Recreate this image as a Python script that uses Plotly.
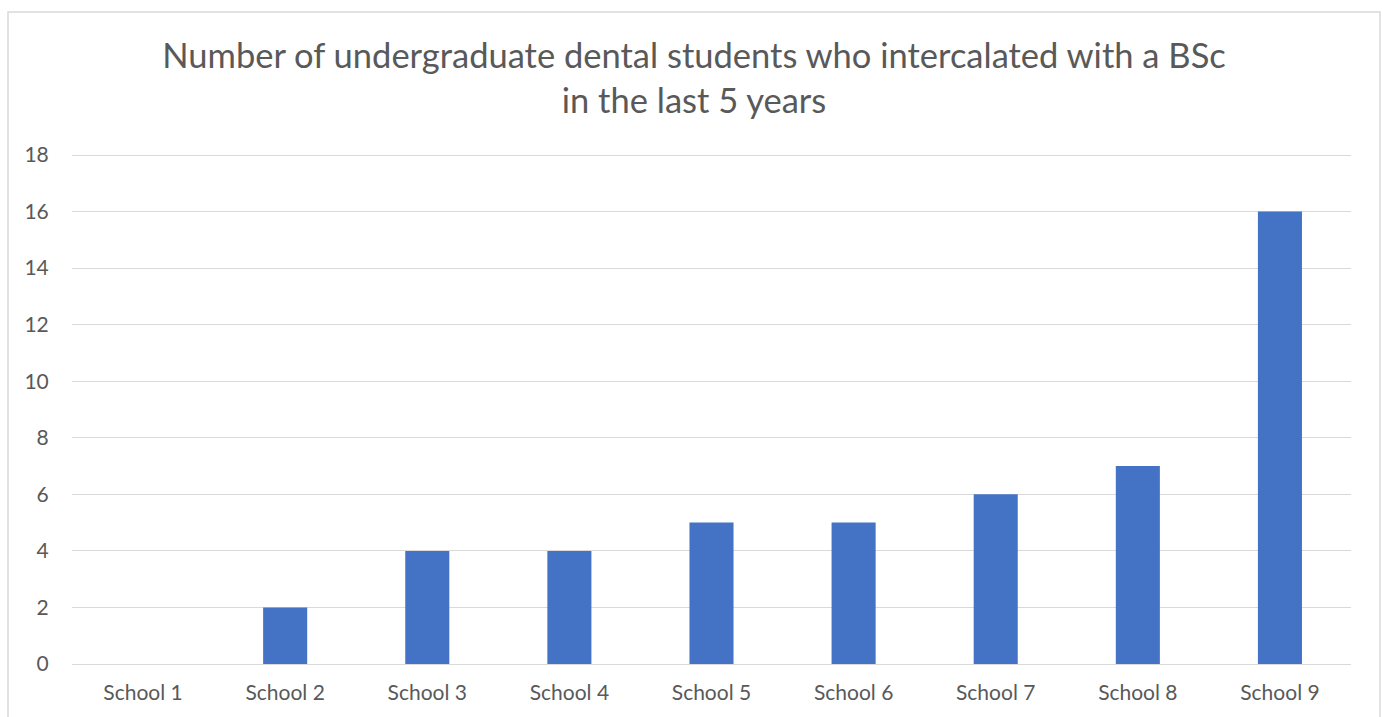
import plotly.graph_objects as go

schools = ["School 1", "School 2", "School 3", "School 4", "School 5",
           "School 6", "School 7", "School 8", "School 9"]
students = [0, 2, 4, 4, 5, 5, 6, 7, 16]
y_ticks = [0, 2, 4, 6, 8, 10, 12, 14, 16, 18]

W, H = 1383, 717
Y_TOP = 18.106  # a little headroom so the 18 gridline is not clipped at the edge
ML, MR, MT, MB = 72, 32, 152, 53
pw, ph = W - ML - MR, H - MT - MB

grey_text = "#595959"
grid = "#D9D9D9"
font_family = "Lato, Calibri, Carlito, 'Open Sans', sans-serif"

fig = go.Figure(
    go.Bar(x=schools, y=students, marker=dict(color="#4472C4", line=dict(width=0)))
)

fig.update_layout(
    width=W, height=H,
    margin=dict(l=ML, r=MR, t=MT, b=MB),
    paper_bgcolor="white", plot_bgcolor="white",
    bargap=0.69,
    showlegend=False,
    font=dict(family=font_family, color=grey_text, size=21),
    title=dict(
        text="Number of undergraduate dental students who intercalated with a BSc<br>in the last 5 years",
        x=694 / W, xanchor="center", xref="container",
        y=1 - 68 / H, yanchor="top", yref="container",
        font=dict(size=34.5, color=grey_text, family=font_family),
    ),
    xaxis=dict(
        showgrid=False, showline=True, linecolor=grid, linewidth=1,
        ticks="outside", ticklen=10, tickcolor="rgba(0,0,0,0)",
        tickfont=dict(size=21, color=grey_text),
    ),
    yaxis=dict(
        range=[0, Y_TOP], tickvals=y_ticks, showgrid=True, gridcolor=grid, gridwidth=1,
        zeroline=True, zerolinecolor=grid, zerolinewidth=1,
        showline=False,
        ticks="outside", ticklen=18, tickcolor="rgba(0,0,0,0)",
        tickfont=dict(size=21, color=grey_text),
    ),
    shapes=[dict(
        type="rect", xref="paper", yref="paper",
        x0=(8 - ML) / pw, x1=(1380 - ML) / pw,
        y0=(H - MB - 730) / ph, y1=(H - MB - 12) / ph,
        line=dict(color=grid, width=1.5), fillcolor="rgba(0,0,0,0)", layer="below",
    )],
)

fig.write_html("out.html")
